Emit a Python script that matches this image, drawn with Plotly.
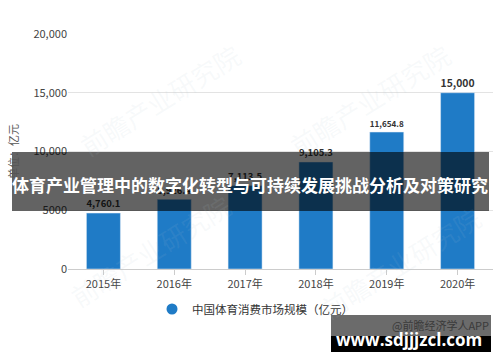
import plotly.graph_objects as go

years = ["2015年", "2016年", "2017年", "2018年", "2019年", "2020年"]
values = [4760.1, 5926.4, 7113.5, 9105.3, 11654.8, 15000]
labels = ["4,760.1", "5,926.4", "7,113.5", "9,105.3", "11,654.8", "15,000"]
ytick_vals = [0, 5000, 10000, 15000, 20000]
ytick_text = ["0", "5000", "10,000", "15,000", "20,000"]
series_name = "中国体育消费市场规模（亿元）"
banner_title = "体育产业管理中的数字化转型与可持续发展挑战分析及对策研究"
site = "www.sdjjjzcl.com"
source = "@前瞻经济学人APP"

FONT = "Noto Sans CJK SC"
W, H = 500, 362
L, R, T, B = 68, 7, 34, 93

def px(x):
    return (x - L) / (W - L - R)

def py(y):
    return (H - B - y) / (H - T - B)

fig = go.Figure()
fig.add_trace(go.Bar(
    x=years, y=values, width=0.48, marker_color="#1f7bc6",
    text=[f"<b>{t}</b>" for t in labels], textposition="outside",
    textfont=dict(family=FONT, size=11, color="#333333"),
    cliponaxis=False, showlegend=False,
))
fig.add_trace(go.Scatter(
    x=[None], y=[None], mode="markers", name=series_name,
    marker=dict(symbol="circle", size=11, color="#1f7bc6"),
))

fig.update_layout(
    width=W, height=H,
    margin=dict(l=L, r=R, t=T, b=B),
    paper_bgcolor="white", plot_bgcolor="white",
    font=dict(family=FONT, size=11, color="#444444"),
    xaxis=dict(
        showgrid=False, showline=True, linecolor="#cccccc", linewidth=1,
        ticks="outside", ticklen=5, tickcolor="#cccccc",
        tickfont=dict(family=FONT, size=11, color="#444444"),
    ),
    yaxis=dict(
        range=[0, 20000], tickvals=ytick_vals, ticktext=ytick_text,
        showgrid=True, gridcolor="#e3e3e3", zeroline=False,
        tickfont=dict(family=FONT, size=11, color="#444444"),
        title=dict(text="单位：亿元", font=dict(family=FONT, size=11, color="#555555"), standoff=12),
    ),
    legend=dict(
        orientation="h", x=px(152), xanchor="left", y=py(309), yanchor="middle",
        font=dict(family=FONT, size=11.5, color="#333333"),
        bgcolor="rgba(0,0,0,0)", itemwidth=30,
    ),
    showlegend=True,
)

shapes = [
    dict(type="rect", xref="paper", yref="paper",
         x0=px(12), x1=px(489), y0=py(211), y1=py(152),
         fillcolor="rgba(0,0,0,0.61)", line=dict(width=0), layer="above"),
    dict(type="rect", xref="paper", yref="paper",
         x0=px(331), x1=px(491), y0=py(336), y1=py(315),
         fillcolor="rgba(0,0,0,0.58)", line=dict(width=0), layer="above"),
    dict(type="rect", xref="paper", yref="paper",
         x0=px(331), x1=px(491), y0=py(352), y1=py(336),
         fillcolor="black", line=dict(width=0), layer="above"),
]
fig.update_layout(shapes=shapes)

wm = dict(family=FONT, size=26, color="rgba(180,195,210,0.10)")
def ann(text, x, y, font, xanchor="center", angle=0):
    return dict(text=text, xref="paper", yref="paper", x=px(x), y=py(y),
                xanchor=xanchor, yanchor="middle", showarrow=False,
                textangle=angle, font=font)

annotations = [
    ann("前瞻产业研究院", 160, 100, wm, angle=-32),
    ann("前瞻产业研究院", 370, 100, wm, angle=-32),
    ann("前瞻产业研究院", 150, 250, wm, angle=-32),
    ann("前瞻产业研究院", 400, 262, wm, angle=-32),
    ann(f"<b>{banner_title}</b>", 250, 184, dict(family=FONT, size=17, color="white")),
    ann(source, 491, 325, dict(family=FONT, size=11, color="#3a3a3a"), xanchor="right"),
    ann(f"<b>{site}</b>", 409, 339, dict(family="Open Sans", size=17, color="white")),
]
fig.update_layout(annotations=annotations)

fig.write_html("out.html")
